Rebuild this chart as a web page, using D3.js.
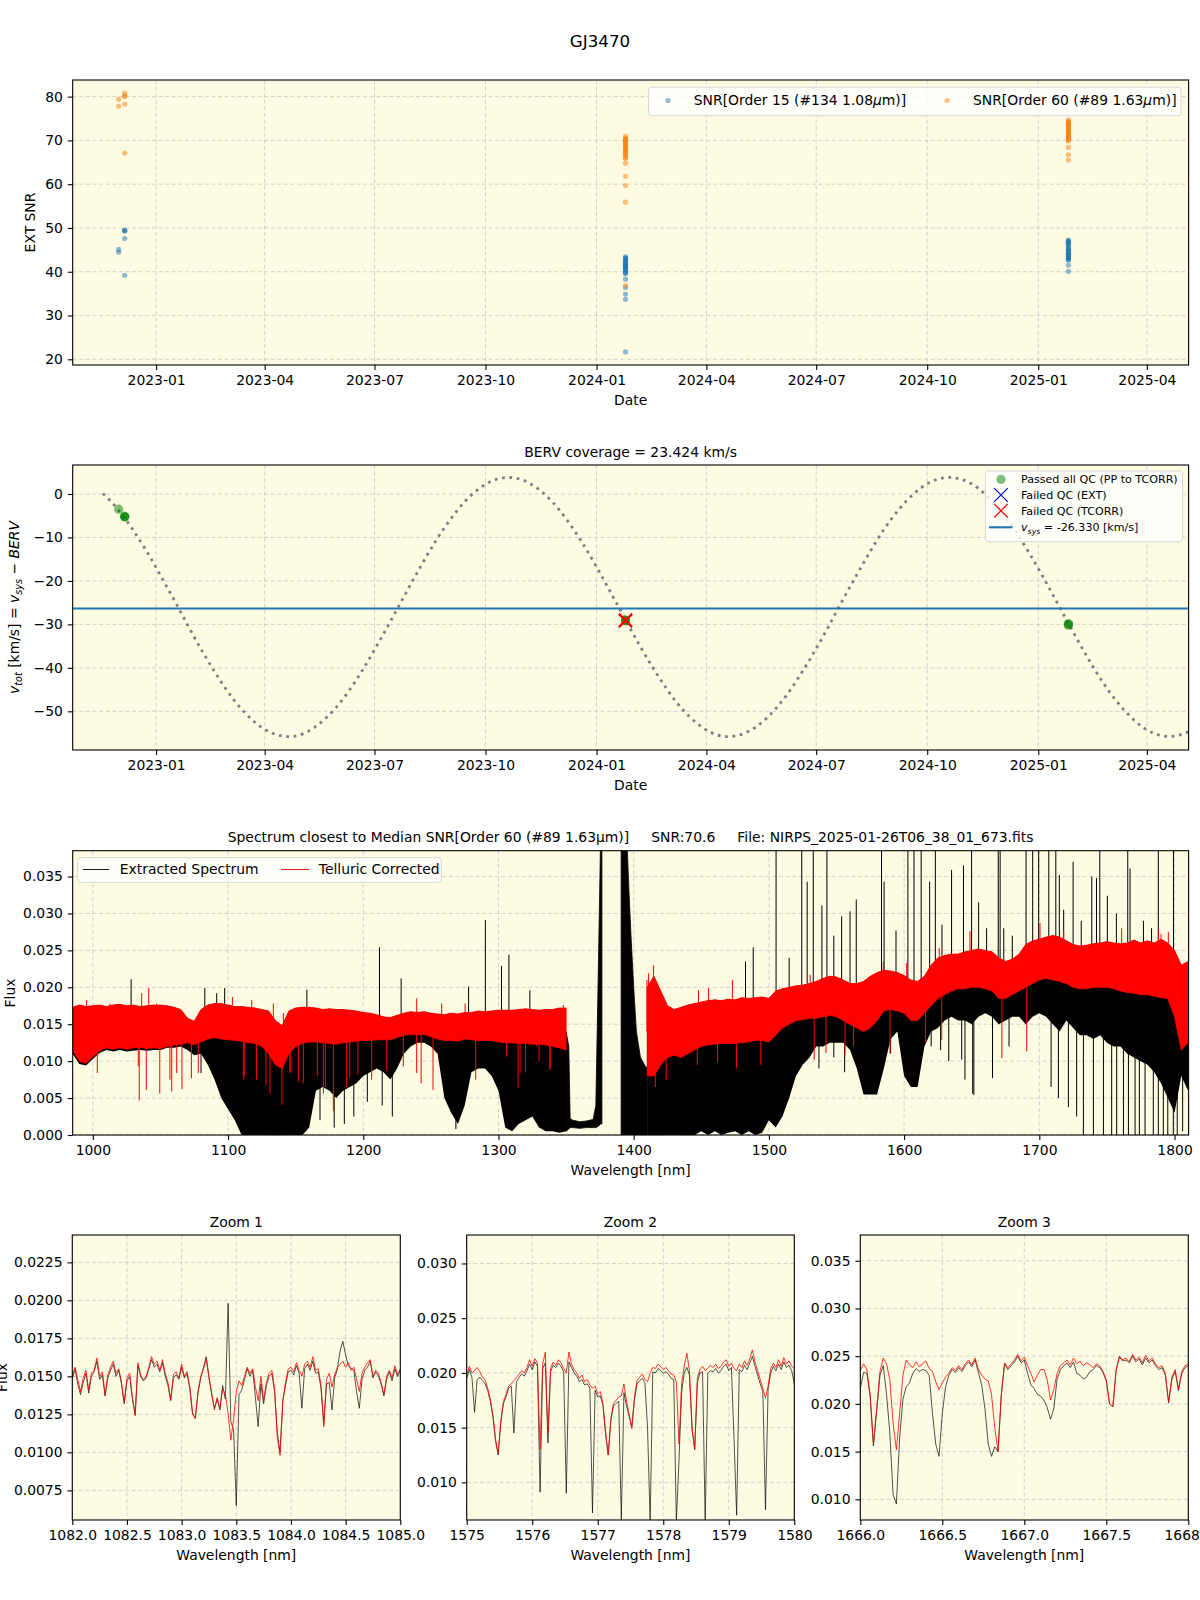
<!DOCTYPE html>
<html>
<head>
<meta charset="utf-8">
<script src="https://cdn.jsdelivr.net/npm/d3@7"></script>
<style>
  body { margin: 0; background: #fff; }
  svg text { font-family: "DejaVu Sans", sans-serif; }
</style>
</head>
<body>
<svg id="fig" width="1200" height="1600"></svg>
<script>
// ---------- data ----------
const nightDates = ["2022-12-01", "2022-12-06", "2024-01-25", "2025-01-26"];
// EXT SNR per observation, grouped by night
const snr15 = [
  [45.1, 44.5],
  [49.5, 49.3, 47.6, 39.2, 49.4],
  [43.4, 43.0, 42.9, 42.4, 42.3, 41.8, 41.7, 41.2, 41.1, 40.6, 40.5, 40.0, 39.7, 42.7, 42.0, 41.4, 40.2, 39.6, 38.3, 36.4, 34.9, 33.7, 21.7, 43.2, 41.5, 40.8],
  [47.3, 47.0, 46.8, 46.3, 46.2, 45.7, 45.6, 45.1, 44.9, 44.5, 44.3, 43.9, 43.8, 43.3, 43.2, 42.8, 46.6, 45.0, 44.0, 43.6, 43.0, 42.7, 41.5, 40.1, 46.9]
];
const snr60 = [
  [79.4, 77.8],
  [80.8, 80.2, 78.3, 67.1, 80.0],
  [70.9, 70.5, 70.3, 70.0, 69.7, 69.6, 69.1, 68.8, 68.7, 68.2, 67.9, 67.8, 67.3, 67.0, 66.9, 66.4, 66.1, 65.9, 64.8, 61.8, 59.7, 55.9, 36.9, 70.2, 69.0, 68.0],
  [74.7, 74.3, 74.2, 73.7, 73.6, 73.1, 72.9, 72.5, 72.4, 71.9, 71.8, 71.3, 71.2, 70.7, 70.6, 70.1, 69.9, 74.0, 73.3, 72.1, 71.0, 70.4, 68.4, 66.7, 65.5]
];
const bervObs = [[-3.5], [-5.2, -5.3, -5.1], [-29.0, -29.2, -29.1], [-29.8, -30.0, -30.2]];
const tcorrFailed = [false, false, true, false];
const vsys = -26.33;
// BERV model curve, one value every 12 days from bervStart
const bervStart = "2022-11-18";
const bervStepDays = 12;
const bervCurve = [0.1, -3.4, -7.9, -13.1, -18.9, -24.9, -31.1, -37.0, -42.4, -47.2, -51.0, -53.8, -55.4, -55.8, -54.9, -52.7,
  -49.5, -45.2, -40.1, -34.4, -28.4, -22.3, -16.3, -10.7, -5.8, -1.7, 1.3, 3.2, 3.8, 3.2, 1.3, -1.7, -5.8, -10.7, -16.3, -22.3,
  -28.4, -34.5, -40.1, -45.2, -49.5, -52.7, -54.9, -55.8, -55.4, -53.8, -51.0, -47.2, -42.4, -37.0, -31.1, -24.9, -18.9, -13.1,
  -7.8, -3.4, 0.1, 2.5, 3.7, 3.6, 2.3, -0.3, -3.9, -8.5, -13.8, -19.6, -25.7, -31.8, -37.7, -43.1, -47.7, -51.4, -54.1, -55.5, -55.7, -54.7];
const dateTicks = ["2023-01", "2023-04", "2023-07", "2023-10", "2024-01", "2024-04", "2024-07", "2024-10", "2025-01", "2025-04"];

// full spectrum, envelopes per 5 nm bin from 985 nm (flux in 1e-3)
const specStart = 985, specStep = 5;
const redHi = [
  17.3,17.6,17.4,17.5,17.6,17.4,17.6,17.7,17.5,17.6,
  17.4,17.5,17.6,17.6,17.5,17.3,17.0,15.8,15.4,17.0,
  17.6,17.8,17.8,17.6,17.4,17.4,17.3,17.2,17.0,16.8,
  15.5,14.8,16.8,17.2,17.3,17.3,17.2,17.0,17.1,17.0,
  17.0,16.9,16.8,16.6,16.5,16.3,16.0,15.9,16.2,16.5,
  16.7,16.6,16.7,16.5,16.4,16.3,16.5,16.4,16.6,16.6,
  16.8,16.7,16.8,16.9,16.9,16.9,17.0,17.1,17.0,16.9,
  17.0,17.0,17.2,17.2,null,null,null,null,null,null,
  null,null,null,null,null,20.0,21.5,19.5,17.5,17.0,
  17.3,17.6,17.8,18.0,18.2,18.3,18.2,18.4,18.3,18.6,
  18.5,18.6,18.7,18.5,19.5,19.8,20.0,20.2,20.3,20.5,
  20.8,21.2,21.5,21.4,21.0,20.5,20.5,20.8,21.5,22.0,
  22.3,22.2,22.0,21.6,21.0,20.8,21.5,23.0,24.0,24.3,
  24.5,24.5,24.8,25.0,25.2,25.0,24.8,24.0,23.5,23.8,
  24.5,25.8,26.3,26.5,26.8,27.0,26.8,26.3,25.8,25.6,
  25.7,25.9,26.0,26.2,26.0,25.9,26.0,26.4,26.0,26.3,
  26.0,26.5,26.0,25.0,23.0,23.5];
const redLo = [
  11.5,10.0,9.7,10.6,11.4,11.8,11.6,11.8,11.6,11.8,
  11.9,11.7,11.8,11.7,12.0,12.2,12.3,12.5,12.2,12.6,
  13.0,13.2,13.0,12.9,12.8,12.7,12.5,12.4,12.0,11.0,
  9.5,9.0,11.0,12.0,12.4,12.6,12.6,12.5,12.4,12.3,
  12.5,12.6,12.7,12.8,12.8,12.9,12.9,12.9,13.2,13.5,
  13.6,13.6,13.6,13.3,13.0,12.8,12.8,12.7,13.0,12.9,
  12.8,12.8,12.8,12.6,12.5,12.5,12.4,12.4,12.3,12.3,
  12.2,12.0,11.8,11.5,null,null,null,null,null,null,
  null,null,null,null,null,8.0,8.0,9.5,10.5,10.8,
  10.5,11.0,11.5,12.0,12.2,12.3,12.4,12.4,12.4,12.5,
  12.6,12.8,12.8,12.6,13.5,14.5,15.0,15.5,15.6,15.8,
  15.8,16.0,16.2,16.0,15.5,15.0,14.5,14.0,14.5,15.5,
  16.8,17.0,16.8,16.5,15.5,15.5,16.5,17.5,18.5,19.0,
  19.5,19.8,19.8,20.0,20.0,19.8,19.5,18.5,18.5,19.0,
  19.5,20.0,20.5,21.0,21.2,21.0,20.8,20.5,20.0,19.8,
  19.8,20.0,20.0,20.0,19.8,19.5,19.3,19.2,19.0,19.0,
  18.8,18.6,18.5,16.0,11.5,12.5];
const blkLo = [
  11.0,9.6,9.4,10.3,11.1,11.5,11.3,11.5,11.3,11.4,
  11.5,11.4,11.5,11.5,11.8,11.8,12.0,11.5,10.8,11.0,
  9.5,7.5,5.0,3.5,2.0,0,0,0,0,0,
  0,0,0,0,0,1.0,6.0,6.5,6.0,5.0,
  6.0,6.5,7.0,8.0,8.5,9.0,8.5,7.5,9.0,11.0,
  12.0,12.5,12.5,12.0,11.0,5.0,3.0,1.5,4.0,8.5,
  9.0,9.0,8.0,6.0,1.0,0.5,1.5,2.0,2.5,1.0,
  0.5,0.5,0.3,0.5,0,0,0,0,0,0,
  0,0,0,0,0,0,0,0,0,0,
  0,0,0,0.5,0,0.5,0,0.3,0.5,0,
  0.5,0,0.3,2.0,1.0,2.5,5.0,8.0,9.5,10.5,
  12.0,12.0,12.5,12.5,12.5,11.5,9.0,5.5,5.5,5.5,
  9.0,13.0,14.0,8.0,6.5,6.5,12.0,14.0,14.5,15.5,
  16.0,15.5,15.5,15.0,16.0,16.5,16.0,15.0,15.5,16.0,
  16.0,15.0,16.0,16.5,16.0,15.0,14.0,15.5,14.5,13.5,
  13.5,13.0,13.5,12.5,12.0,12.0,11.0,10.5,10.0,9.5,
  8.5,7.0,5.0,3.0,8.0,6.0];
// extracted spectrum where no telluric-corrected data exists (null = gap)
const gapWl = [1350, 1352, 1353, 1355, 1360, 1365, 1370, 1372, 1374, 1375.5, 1376.5, 1383, 1390.7, 1395, 1396.5, 1398, 1400, 1402, 1405, 1408, 1410];
const gapHi = [14, 12, 2.2, 2.0, 1.8, 1.9, 2.1, 4.0, 24, 40, 40, null, 40, 40, 33, 27, 20, 14, 10.5, 9.5, 9.0];
const gapLo = [0.5, 0.8, 1.0, 1.0, 0.9, 1.0, 1.0, 1.0, 1.2, 1.5, 1.5, null, 0, 0, 0, 0, 0, 0, 0, 0, 0];
// single narrow features [wavelength nm, flux 1e-3]
const blkSpikes = [[1028.3,21.1],[1082.8,19.9],[1091.6,19.2],[1097.5,19.9],[1158.3,19.7],[1212,25.4],[1228,21.2],[1277.9,20.1],
  [1290.3,29.1],[1302.2,22.9],[1307.7,24.4],[1323.2,19.6],[1482.7,23.5],[1488.4,25.4],[1505.3,40],[1515,24],[1524.3,40],
  [1528.3,34.3],[1532.8,40],[1539.2,31.1],[1542.9,40],[1548,27],[1553.8,29.6],[1560,30.3],[1564.6,31.9],[1583.3,40],
  [1585.2,34.3],[1594,27.7],[1602.8,40],[1607.3,40],[1612.6,40],[1618.9,34.3],[1623.1,40],[1628,28.5],[1635.1,35.9],
  [1643.9,36.5],[1649.9,40],[1655.1,31.5],[1661,28],[1669.6,40],[1671,40],[1673.7,28],[1680,27],[1690.2,40],[1695.1,40],
  [1699.5,40],[1707,40],[1712.2,40],[1714.8,35.2],[1718,30.5],[1725,37],[1731,29],[1738.8,35],[1742.3,34.8],[1744.7,40],
  [1750.3,32.4],[1757,30],[1765.4,40],[1767.1,36.1],[1777,29],[1783,28],[1788,40],[1799.2,40]];
const blkDips = [[1080,8.4],[1168,2.0],[1178.5,1.0],[1186,1.5],[1193,2.5],[1203,4.5],[1214,4.0],[1221.5,2.5],[1268.5,0.8],
  [1537,9],[1548,10.5],[1556,8.5],[1590,11],[1620,12],[1627,11.5],[1633,10],[1642.6,10.2],[1645,7.5],[1650.7,5.6],
  [1651.6,5.4],[1665.4,7.7],[1677.6,12],[1708.7,6.5],[1714.1,5.0],[1721.5,3.8],[1727.6,2.5],[1732.6,0],[1740,0],
  [1747.4,0],[1753.5,0],[1757.2,0],[1762.2,0],[1765.9,0],[1770.8,0],[1774,0],[1778.2,0],[1784.3,0],[1788,0],[1791.7,0],
  [1795,0],[1799.1,0],[1802,0],[1806,0.5]];
const redDips = [[1003.3,8.4],[1033.6,9.3],[1034.3,4.7],[1039.5,6.1],[1049.5,5.6],[1057,7.5],[1058.3,5.9],[1062,8.4],
  [1065.9,6.2],[1072.9,7.7],[1078,8.4],[1111.3,7.5],[1112,8.0],[1121,7.5],[1128,6.8],[1131,5.6],[1139.8,4.1],[1145.8,8.4],
  [1146,8.5],[1152,7.2],[1155.7,7.0],[1166,8.0],[1170.5,5.6],[1172,6.5],[1177.9,3.2],[1187.7,6.5],[1190,7.8],[1196,8.2],
  [1206.2,7.5],[1217.3,8.8],[1229.6,9.3],[1239.5,8.4],[1242.8,7.0],[1251.6,6.1],[1283.2,7.5],[1306,10.6],[1314.5,6.3],
  [1316,8.4],[1320,8.5],[1328.3,12],[1330,10.0],[1338,9.0],[1338.2,8.8],[1416,6.5],[1424,7.5],[1447,9.5],[1462,9.8],
  [1476,9.0],[1494,9.5],[1533.5,10.2],[1542.2,11.1],[1556.3,10.8],[1562.5,12.0],[1589.6,11.1],[1615.8,12.6],
  [1627.8,12.9],[1672.3,10.4],[1690.7,11.3],[1808.2,12.4]];
const redSpikes = [[995.4,18.3],[1012.7,17.8],[1036.1,19.2],[1041.3,19.9],[1047.2,17.8],[1103.2,18.7],[1117.5,18.3],
  [1133.5,17.8],[1140.9,16.5],[1239.5,18.5],[1258,17.8],[1275.3,17.8],[1348,17.6],[1409.8,21.0],[1410.9,21.9],
  [1414.6,23.0],[1447.9,19.6],[1455.3,19.9],[1473,21],[1530.5,21.7],[1584.6,23.5],[1601.9,23.3],[1626,25.3],
  [1648.7,27.6],[1700.5,28.7],[1717.8,27.8],[1718,27.7],[1760.9,28],[1788,27.8],[1790,27.2],[1795.4,27.5]];

// zoom windows (flux in 1e-3)
const z1Start = 1082, z1Step = 0.025;
const z1Red = [15.0,15.6,14.8,14.0,14.9,15.4,14.1,15.2,15.4,16.2, 15.0,15.3,13.8,15.1,15.6,16.0,15.2,15.5,14.6,13.3,
  14.9,15.2,13.6,12.4,15.9,15.1,14.8,15.0,15.6,16.3, 15.8,16.0,15.4,16.1,15.2,14.6,13.5,15.1,15.3,14.9,
  15.8,15.0,15.3,14.3,12.6,12.2,14.0,15.0,15.5,16.1, 14.9,13.9,12.8,13.6,12.9,14.2,13.8,12.6,10.8,12.2,
  14.0,14.7,14.4,15.0,15.6,15.2,15.5,14.3,13.4,15.0, 13.4,14.6,15.2,15.4,14.2,11.0,9.8,13.3,14.6,15.5,
  15.6,15.3,15.9,15.4,15.0,15.8,16.0,15.6,16.3,15.4, 15.5,14.4,11.7,14.8,15.2,14.3,15.1,15.6,15.8,16.0,
  15.6,15.9,15.4,15.6,14.8,14.0,15.2,15.6,15.9,16.1, 15.0,15.4,15.2,14.6,13.8,15.0,15.4,14.9,15.7,15.1, 15.5];
const z1Blk = [14.8,15.5,14.5,13.8,14.6,15.2,13.9,15.0,15.3,16.0, 14.8,15.1,13.7,14.9,15.4,15.8,15.0,15.4,14.5,13.2,
  14.7,15.0,13.5,12.5,15.7,15.0,14.7,14.9,15.5,16.1, 15.6,15.8,15.3,15.9,15.0,14.4,13.4,14.9,15.1,14.8,
  15.6,14.9,15.2,14.2,12.5,12.3,13.9,14.9,15.6,16.3, 15.0,13.8,12.9,13.5,12.8,14.4,13.5,19.8,12.0,11.5,
  6.5,13.8,14.1,14.8,15.5,15.0,15.4,13.6,11.7,14.5, 13.2,14.4,15.0,15.2,14.0,11.3,10.0,13.4,14.4,15.3,
  15.4,15.1,15.7,15.2,12.9,15.5,15.8,15.4,16.0,15.2, 15.3,14.2,11.9,14.5,14.6,12.8,14.9,15.5,16.7,17.3,
  16.4,15.7,15.5,15.4,14.0,12.9,14.8,15.4,15.6,16.0, 14.9,15.3,15.0,14.5,13.7,14.8,15.3,14.7,15.5,15.0, 15.4];
const z2Start = 1575, z2Step = 0.04;
const z2Red = [19.8,20.6,20.0,20.2,20.5,20.1,19.6,19.4,18.6,17.6, 16.2,14.0,12.6,15.6,17.4,18.0,18.8,19.0,19.3,19.6,
  19.9,20.2,20.0,20.5,21.2,20.6,21.3,20.9,13.0,20.8, 21.9,14.5,20.4,21.0,20.7,21.2,20.9,20.4,20.0,21.9,
  20.8,20.3,20.0,19.5,19.8,19.2,19.4,18.9,18.6,18.8, 18.1,18.3,17.2,14.6,12.5,15.8,17.2,17.5,17.8,17.9,
  19.0,17.4,16.2,14.9,17.8,19.3,19.6,19.9,19.4,19.2, 20.0,20.5,20.4,20.8,20.6,20.3,20.5,20.2,19.9,19.8,
  19.2,13.5,19.0,20.6,21.8,20.2,15.0,13.0,19.5,20.3, 20.6,20.2,20.4,20.7,20.5,20.8,20.4,20.6,21.0,21.2,
  20.6,20.9,20.4,20.2,20.8,20.5,21.1,20.7,21.3,22.1, 21.0,20.2,19.4,18.6,17.7,18.8,20.4,20.9,20.5,21.2,
  20.6,21.4,20.8,21.1,20.6,20.4];
const z2Blk = [19.5,20.3,19.6,16.4,19.4,19.6,19.3,19.0,18.4,17.4, 16.0,13.8,12.5,15.4,17.2,17.8,18.6,18.8,14.5,19.2,
  19.6,19.9,19.7,20.2,20.8,20.3,21.0,20.6,9.1,20.4, 20.9,13.6,20.1,20.7,20.5,20.9,20.6,20.1,9.0,21.0,
  20.5,20.0,19.7,19.2,19.4,18.9,19.0,18.6,7.2,18.4, 17.8,17.9,17.0,14.4,12.5,15.6,17.0,17.2,17.4,6.6,
  18.2,17.0,16.0,15.1,17.5,19.0,19.3,19.5,19.1,15.0, 6.4,20.1,20.0,20.4,20.2,20.0,20.1,19.9,19.5,19.4,
  6.4,12.0,18.2,20.0,20.5,19.8,14.8,13.0,19.1,20.0, 20.1,6.4,20.0,20.2,20.1,20.4,20.0,20.2,20.6,20.8,
  20.2,20.5,14.0,7.0,20.3,20.1,20.7,20.3,20.9,21.5, 20.6,19.8,19.0,18.3,7.5,18.5,20.0,20.6,20.2,20.8,
  20.3,21.0,20.5,20.7,20.2,19.0];
const z3Start = 1666, z3Step = 0.02;
const z3Red = [23.5,24.2,23.6,21.0,15.8,19.5,23.4,24.8,24.2,22.5, 18.0,15.2,19.0,23.0,24.6,24.1,23.8,24.4,23.9,24.2,
  24.5,23.7,23.4,22.3,21.5,22.2,22.8,23.2,23.8,23.5, 24.0,23.6,24.2,24.6,24.1,24.8,23.6,23.0,22.6,22.4,
  21.0,17.5,15.0,21.0,24.3,23.8,24.2,24.6,25.2,24.5, 24.9,24.0,23.2,22.3,23.0,23.6,23.6,22.5,20.4,21.5,
  23.2,24.0,24.3,24.6,24.1,24.8,24.2,24.5,24.0,24.3, 24.1,23.8,24.2,24.0,23.4,22.5,20.0,19.7,23.6,25.0,
  24.6,24.8,24.4,25.2,24.6,24.9,24.3,25.1,24.5,24.8, 24.2,23.8,24.0,23.2,20.2,22.8,23.6,21.5,23.4,24.0, 24.2];
const z3Blk = [21.6,23.3,23.2,20.8,15.6,19.3,23.0,24.0,21.0,17.0, 10.5,9.5,16.5,20.5,21.8,22.2,23.2,23.7,23.4,23.6,
  23.5,23.0,19.0,15.8,14.5,19.0,21.8,23.0,23.6,23.3, 23.8,23.4,24.0,24.4,23.9,24.6,23.3,22.0,19.5,15.8,
  14.5,15.5,15.0,21.0,24.2,23.6,24.0,24.4,25.0,24.3, 24.6,23.2,22.0,21.6,21.0,20.8,20.4,19.6,18.4,19.5,
  22.6,23.6,24.0,24.3,23.8,24.4,23.2,23.0,22.6,22.8, 23.4,23.6,24.0,23.8,23.3,22.4,20.0,19.7,23.5,24.9,
  24.5,24.6,24.3,25.0,24.4,24.7,24.1,24.8,24.3,24.6, 24.0,23.6,23.8,23.0,20.1,22.6,23.4,21.4,23.2,23.8, 24.0];

// ---------- layout ----------
const svg = d3.select("#fig");
const BG = "#fdfce3";
const FONT = 13.9;
const P1 = { l: 72.7, r: 1188.6, t: 80, b: 365 };
const P2 = { l: 72.7, r: 1188.6, t: 465, b: 750 };
const P3 = { l: 72.7, r: 1188.6, t: 850.7, b: 1135 };
const Z1 = { l: 72.3, r: 400.3, t: 1235, b: 1520 };
const Z2 = { l: 466.7, r: 794.3, t: 1235, b: 1520 };
const Z3 = { l: 860.3, r: 1188.3, t: 1235, b: 1520 };

let clipN = 0;
// background, grid and a clipped group for the marks
function setupPanel(box, x, y, xVals, yVals) {
  svg.append("rect").attr("x", box.l).attr("y", box.t)
    .attr("width", box.r - box.l).attr("height", box.b - box.t).attr("fill", BG);
  const id = "clip" + (clipN++);
  svg.append("clipPath").attr("id", id).append("rect")
    .attr("x", box.l).attr("y", box.t).attr("width", box.r - box.l).attr("height", box.b - box.t);
  const grid = svg.append("g").attr("stroke", "#c8c8c8").attr("stroke-width", 0.8).attr("stroke-dasharray", "4,2.6");
  grid.selectAll(null).data(xVals).enter().append("line")
    .attr("x1", d => x(d)).attr("x2", d => x(d)).attr("y1", box.t).attr("y2", box.b);
  grid.selectAll(null).data(yVals).enter().append("line")
    .attr("y1", d => y(d)).attr("y2", d => y(d)).attr("x1", box.l).attr("x2", box.r);
  return svg.append("g").attr("clip-path", `url(#${id})`);
}

function styleAxis(g) {
  g.attr("font-size", FONT).attr("font-family", "DejaVu Sans");
  g.select(".domain").remove();
  g.selectAll("line").attr("stroke", "#000").attr("stroke-width", 1.1);
  g.selectAll("text").attr("fill", "#000");
}

function drawAxes(box, x, y, xVals, yVals, xFmt, yFmt) {
  svg.append("g").attr("transform", `translate(0,${box.b})`)
    .call(d3.axisBottom(x).tickValues(xVals).tickFormat(xFmt).tickSize(4.9).tickPadding(4.9))
    .call(styleAxis);
  svg.append("g").attr("transform", `translate(${box.l},0)`)
    .call(d3.axisLeft(y).tickValues(yVals).tickFormat(yFmt).tickSize(4.9).tickPadding(4.9))
    .call(styleAxis);
  svg.append("rect").attr("x", box.l).attr("y", box.t)
    .attr("width", box.r - box.l).attr("height", box.b - box.t)
    .attr("fill", "none").attr("stroke", "#000").attr("stroke-width", 1.1);
}

function label(x, y, txt, size, rotate) {
  const t = svg.append("text").attr("x", x).attr("y", y).attr("dy", "0.35em")
    .attr("text-anchor", "middle").attr("font-size", size || FONT).attr("fill", "#000");
  if (rotate) t.attr("transform", `rotate(-90,${x},${y})`);
  if (txt) t.text(txt);
  return t;
}

function legendBox(x0, y0, x1, y1) {
  svg.append("rect").attr("x", x0).attr("y", y0).attr("width", x1 - x0).attr("height", y1 - y0)
    .attr("rx", 3).attr("fill", "#fff").attr("fill-opacity", 0.8)
    .attr("stroke", "#d6d6d6").attr("stroke-width", 1);
}

const parseDay = d3.utcParse("%Y-%m-%d");
const parseMonth = d3.utcParse("%Y-%m");
const monthTicks = dateTicks.map(parseMonth);
const fmtMonth = d3.utcFormat("%Y-%m");
const dateDomain = [new Date(Date.UTC(2022, 9, 23, 22)), new Date(Date.UTC(2025, 4, 5, 14))];

// main title
label(600, 40.8, "GJ3470", 16.7);

// ---------- panel 1 : EXT SNR ----------
const x1 = d3.scaleUtc().domain(dateDomain).range([P1.l, P1.r]);
const y1 = d3.scaleLinear().domain([18.7, 83.8]).range([P1.b, P1.t]);
const snrTicks = [20, 30, 40, 50, 60, 70, 80];
const p1 = setupPanel(P1, x1, y1, monthTicks, snrTicks);

const snrPts = [];
nightDates.forEach((d, n) => {
  snr15[n].forEach(v => snrPts.push({ date: parseDay(d), v, c: "#1f77b4" }));
});
nightDates.forEach((d, n) => {
  snr60[n].forEach(v => snrPts.push({ date: parseDay(d), v, c: "#ff7f0e" }));
});
p1.selectAll(".snr").data(snrPts).enter().append("circle")
  .attr("cx", d => x1(d.date)).attr("cy", d => y1(d.v)).attr("r", 2.6)
  .attr("fill", d => d.c).attr("fill-opacity", 0.5);
drawAxes(P1, x1, y1, monthTicks, snrTicks, fmtMonth, d3.format("d"));
label(630.6, 400, "Date");
label(29.9, 222.5, "EXT SNR", FONT, true);

legendBox(648.6, 87.3, 1181, 115.7);
[[668, 693.8, "#1f77b4", "SNR[Order 15 (#134 1.08"], [947, 973, "#ff7f0e", "SNR[Order 60 (#89 1.63"]].forEach(e => {
  svg.append("circle").attr("cx", e[0]).attr("cy", 100.5).attr("r", 2.6).attr("fill", e[2]).attr("fill-opacity", 0.5);
  const t = svg.append("text").attr("x", e[1]).attr("y", 100.5).attr("dy", "0.35em").attr("font-size", FONT);
  t.append("tspan").text(e[3]);
  t.append("tspan").attr("font-style", "italic").text("\u03bc");
  t.append("tspan").text("m)]");
});

// ---------- panel 2 : BERV ----------
const x2 = d3.scaleUtc().domain(dateDomain).range([P2.l, P2.r]);
const y2 = d3.scaleLinear().domain([-58.9, 6.67]).range([P2.b, P2.t]);
const bervTicks = [-50, -40, -30, -20, -10, 0];
const p2 = setupPanel(P2, x2, y2, monthTicks, bervTicks);

const t0 = parseDay(bervStart);
const bervLine = d3.line()
  .x((d, i) => x2(d3.utcDay.offset(t0, i * bervStepDays)))
  .y(d => y2(d))
  .curve(d3.curveNatural);
p2.append("path").datum(bervCurve).attr("d", bervLine)
  .attr("fill", "none").attr("stroke", "#808080").attr("stroke-width", 2.8)
  .attr("stroke-dasharray", "2.8,4.6");

p2.append("line").attr("x1", P2.l).attr("x2", P2.r).attr("y1", y2(vsys)).attr("y2", y2(vsys))
  .attr("stroke", "#1f77b4").attr("stroke-width", 2.1);

const bervPts = [];
nightDates.forEach((d, n) => bervObs[n].forEach(v => bervPts.push({ date: parseDay(d), v, fail: tcorrFailed[n] })));
p2.selectAll(".ok").data(bervPts).enter().append("circle")
  .attr("cx", d => x2(d.date)).attr("cy", d => y2(d.v)).attr("r", 4.6)
  .attr("fill", "green").attr("fill-opacity", 0.5);
const xMark = s => `M${-s},${-s}L${s},${s}M${-s},${s}L${s},${-s}`;
p2.selectAll(".fail").data(bervPts.filter(d => d.fail)).enter().append("path")
  .attr("transform", d => `translate(${x2(d.date)},${y2(d.v)})`)
  .attr("d", xMark(6.5)).attr("fill", "none").attr("stroke", "red").attr("stroke-width", 1.8);

drawAxes(P2, x2, y2, monthTicks, bervTicks, fmtMonth, d => d3.format("d")(d).replace("-", "\u2212"));
label(630.6, 452.3, "BERV coverage = 23.424 km/s");
label(630.6, 785, "Date");

// y label with math parts
const yl2 = label(14.5, 607.5, null, FONT, true);
yl2.append("tspan").attr("font-style", "italic").text("v");
yl2.append("tspan").attr("font-style", "italic").attr("font-size", 9.7).attr("dy", 3).text("tot");
yl2.append("tspan").attr("dy", -3).text(" [km/s] = ");
yl2.append("tspan").attr("font-style", "italic").text("v");
yl2.append("tspan").attr("font-style", "italic").attr("font-size", 9.7).attr("dy", 3).text("sys");
yl2.append("tspan").attr("dy", -3).text(" \u2212 ");
yl2.append("tspan").attr("font-style", "italic").text("BERV");

legendBox(985.4, 471, 1182.5, 541.7);
const lgY = [479.3, 495, 510.7, 527.3];
svg.append("circle").attr("cx", 1001).attr("cy", lgY[0]).attr("r", 4.6).attr("fill", "green").attr("fill-opacity", 0.5);
svg.append("path").attr("transform", `translate(1001,${lgY[1]})`).attr("d", xMark(6.8))
  .attr("fill", "none").attr("stroke", "blue").attr("stroke-width", 1.2);
svg.append("path").attr("transform", `translate(1001,${lgY[2]})`).attr("d", xMark(6.8))
  .attr("fill", "none").attr("stroke", "red").attr("stroke-width", 1.2);
svg.append("line").attr("x1", 989).attr("x2", 1012.5).attr("y1", lgY[3]).attr("y2", lgY[3])
  .attr("stroke", "#1f77b4").attr("stroke-width", 2.1);
["Passed all QC (PP to TCORR)", "Failed QC (EXT)", "Failed QC (TCORR)"].forEach((s, i) => {
  svg.append("text").attr("x", 1021).attr("y", lgY[i]).attr("dy", "0.35em").attr("font-size", 11.1).text(s);
});
const lv = svg.append("text").attr("x", 1021).attr("y", lgY[3]).attr("dy", "0.35em").attr("font-size", 11.1);
lv.append("tspan").attr("font-style", "italic").text("v");
lv.append("tspan").attr("font-style", "italic").attr("font-size", 7.8).attr("dy", 2.5).text("sys");
lv.append("tspan").attr("dy", -2.5).text(" = -26.330 [km/s]");

// ---------- panel 3 : full spectrum ----------
const x3 = d3.scaleLinear().domain([985.1, 1810.4]).range([P3.l, P3.r]);
const y3 = d3.scaleLinear().domain([0, 0.0385]).range([P3.b, P3.t]);
const wlTicks = d3.range(1000, 1801, 100);
const fluxTicks = [0, 0.005, 0.010, 0.015, 0.020, 0.025, 0.030, 0.035];
const p3 = setupPanel(P3, x3, y3, wlTicks, fluxTicks);

const specWl = redHi.map((d, i) => specStart + i * specStep);
const mf = v => v / 1000;
const binOf = w => Math.max(0, Math.min(specWl.length - 1, Math.round((w - specStart) / specStep)));
const redMid = w => {
  const i = binOf(w);
  return redHi[i] != null ? (redHi[i] + redLo[i]) / 2 : 5;
};

// extracted spectrum (black) underneath
p3.append("path").datum(specWl)
  .attr("d", d3.area().defined((d, i) => redHi[i] != null)
    .x(d => x3(d)).y0((d, i) => y3(mf(blkLo[i]))).y1((d, i) => y3(mf(redHi[i]))))
  .attr("fill", "#000");
p3.append("path").datum(gapWl)
  .attr("d", d3.area().defined((d, i) => gapHi[i] != null)
    .x(d => x3(d)).y0((d, i) => y3(mf(gapLo[i]))).y1((d, i) => y3(mf(gapHi[i]))))
  .attr("fill", "#000").attr("stroke", "#000").attr("stroke-width", 0.8);
p3.selectAll(".bs").data(blkSpikes.concat(blkDips)).enter().append("line")
  .attr("x1", d => x3(d[0])).attr("x2", d => x3(d[0]))
  .attr("y1", d => y3(mf(d[1]))).attr("y2", d => y3(mf(redMid(d[0]))))
  .attr("stroke", "#000").attr("stroke-width", 1);

// telluric corrected (red) on top
p3.append("path").datum(specWl)
  .attr("d", d3.area().defined((d, i) => redHi[i] != null)
    .x(d => x3(d)).y0((d, i) => y3(mf(redLo[i]))).y1((d, i) => y3(mf(redHi[i]))))
  .attr("fill", "#ff0000").attr("stroke", "#ff0000").attr("stroke-width", 0.8);
p3.selectAll(".rs").data(redDips.concat(redSpikes)).enter().append("line")
  .attr("x1", d => x3(d[0])).attr("x2", d => x3(d[0]))
  .attr("y1", d => y3(mf(d[1]))).attr("y2", d => y3(mf(redMid(d[0]))))
  .attr("stroke", "#ff0000").attr("stroke-width", 1);

drawAxes(P3, x3, y3, wlTicks, fluxTicks, d3.format("d"), d3.format(".3f"));
label(630.6, 836.7, "Spectrum closest to Median SNR[Order 60 (#89 1.63\u03bcm)]     SNR:70.6     File: NIRPS_2025-01-26T06_38_01_673.fits")
  .style("white-space", "pre");
label(630.6, 1170, "Wavelength [nm]");
label(10.2, 993, "Flux", FONT, true);

legendBox(77.7, 857.7, 441.3, 882.3);
svg.append("line").attr("x1", 83).attr("x2", 109).attr("y1", 869.5).attr("y2", 869.5).attr("stroke", "#000").attr("stroke-width", 0.9);
svg.append("text").attr("x", 119.8).attr("y", 869.5).attr("dy", "0.35em").attr("font-size", FONT).text("Extracted Spectrum");
svg.append("line").attr("x1", 281).attr("x2", 309).attr("y1", 869.5).attr("y2", 869.5).attr("stroke", "#ff0000").attr("stroke-width", 0.9);
svg.append("text").attr("x", 318.8).attr("y", 869.5).attr("dy", "0.35em").attr("font-size", FONT).text("Telluric Corrected");

// ---------- zoom panels ----------
function zoomPanel(box, start, step, red, blk, xDom, yDom, xVals, yVals, xFmt, yFmt, title) {
  const x = d3.scaleLinear().domain(xDom).range([box.l, box.r]);
  const y = d3.scaleLinear().domain(yDom).range([box.b, box.t]);
  const g = setupPanel(box, x, y, xVals, yVals);
  const line = d3.line().x((d, i) => x(start + i * step)).y(d => y(d / 1000));
  g.append("path").datum(blk).attr("d", line).attr("fill", "none")
    .attr("stroke", "#000").attr("stroke-opacity", 0.85).attr("stroke-width", 0.8);
  g.append("path").datum(red).attr("d", line).attr("fill", "none")
    .attr("stroke", "#ff0000").attr("stroke-width", 0.8);
  drawAxes(box, x, y, xVals, yVals, xFmt, yFmt);
  const cx = (box.l + box.r) / 2;
  label(cx, 1222.3, title);
  label(cx, 1555, "Wavelength [nm]");
}

zoomPanel(Z1, z1Start, z1Step, z1Red, z1Blk, [1082, 1085], [0.00555, 0.0243],
  [1082, 1082.5, 1083, 1083.5, 1084, 1084.5, 1085], [0.0075, 0.0100, 0.0125, 0.0150, 0.0175, 0.0200, 0.0225],
  d3.format(".1f"), d3.format(".4f"), "Zoom 1");
zoomPanel(Z2, z2Start, z2Step, z2Red, z2Blk, [1575, 1580], [0.00656, 0.0326],
  [1575, 1576, 1577, 1578, 1579, 1580], [0.010, 0.015, 0.020, 0.025, 0.030],
  d3.format("d"), d3.format(".3f"), "Zoom 2");
zoomPanel(Z3, z3Start, z3Step, z3Red, z3Blk, [1666, 1668], [0.00783, 0.0377],
  [1666, 1666.5, 1667, 1667.5, 1668], [0.010, 0.015, 0.020, 0.025, 0.030, 0.035],
  d3.format(".1f"), d3.format(".3f"), "Zoom 3");
// the reference also cuts this label at the left edge
label(2.5, 1377.5, "Flux", FONT, true);
</script>
</body>
</html>
